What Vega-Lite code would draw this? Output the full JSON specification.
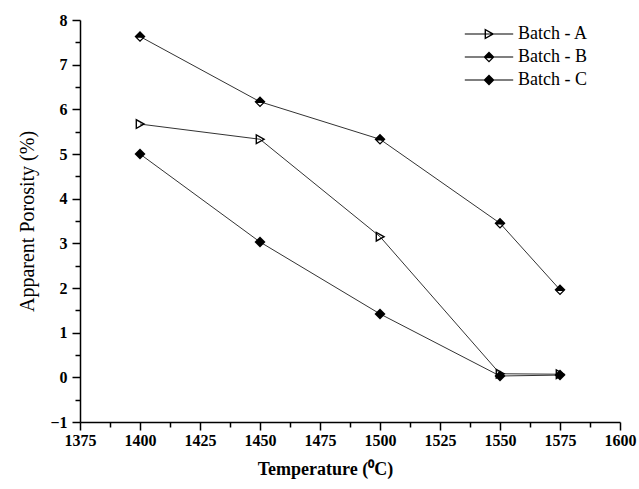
{
  "$schema": "https://vega.github.io/schema/vega-lite/v6.json",
  "width": 540,
  "height": 402,
  "autosize": {"type": "none"},
  "padding": {"left": 80, "top": 20, "right": 19, "bottom": 67},
  "background": "white",
  "config": {
    "view": {"stroke": null},
    "font": "Liberation Serif",
    "axis": {
      "domainColor": "black",
      "domainWidth": 1.5,
      "tickColor": "black",
      "tickWidth": 1.5,
      "grid": false,
      "labelFont": "Liberation Serif",
      "labelFontWeight": "bold",
      "labelFontSize": 16,
      "labelColor": "black",
      "titleColor": "black",
      "titleFont": "Liberation Serif"
    },
    "legend": {
      "labelFont": "Liberation Serif",
      "labelFontSize": 18,
      "labelColor": "black"
    }
  },
  "data": {
    "values": [
      {"series": "Batch - A", "temp": 1400, "porosity": 5.67},
      {"series": "Batch - A", "temp": 1450, "porosity": 5.33},
      {"series": "Batch - A", "temp": 1500, "porosity": 3.15},
      {"series": "Batch - A", "temp": 1550, "porosity": 0.08},
      {"series": "Batch - A", "temp": 1575, "porosity": 0.07},
      {"series": "Batch - B", "temp": 1400, "porosity": 7.63},
      {"series": "Batch - B", "temp": 1450, "porosity": 6.17},
      {"series": "Batch - B", "temp": 1500, "porosity": 5.33},
      {"series": "Batch - B", "temp": 1550, "porosity": 3.45},
      {"series": "Batch - B", "temp": 1575, "porosity": 1.96},
      {"series": "Batch - C", "temp": 1400, "porosity": 5.0},
      {"series": "Batch - C", "temp": 1450, "porosity": 3.03},
      {"series": "Batch - C", "temp": 1500, "porosity": 1.42},
      {"series": "Batch - C", "temp": 1550, "porosity": 0.03},
      {"series": "Batch - C", "temp": 1575, "porosity": 0.05}
    ]
  },
  "layer": [
    {
      "mark": {"type": "line", "color": "#333333", "strokeWidth": 1},
      "encoding": {
        "x": {
          "field": "temp", "type": "quantitative",
          "scale": {"domain": [1375, 1600], "nice": false, "zero": false},
          "axis": {
            "orient": "bottom",
            "values": [1375, 1400, 1425, 1450, 1475, 1500, 1525, 1550, 1575, 1600],
            "format": "d",
            "tickSize": 8,
            "labelPadding": 2,
            "labelFlush": false,
            "labelFontWeight": "bold",
            "title": "Temperature (⁰C)",
            "titleFontSize": 18,
            "titleFontWeight": "bold",
            "titlePadding": 12,
            "titleX": 245
          }
        },
        "y": {
          "field": "porosity", "type": "quantitative",
          "scale": {"domain": [-1, 8], "nice": false, "zero": false},
          "axis": {
            "orient": "left",
            "values": [-1, 0, 1, 2, 3, 4, 5, 6, 7, 8],
            "tickSize": 8,
            "labelPadding": 5,
            "labelFlush": false,
            "labelFontWeight": "bold",
            "title": "Apparent Porosity (%)",
            "titleFontSize": 20,
            "titleFontWeight": "normal",
            "titlePadding": 12
          }
        },
        "detail": {"field": "series"}
      }
    },
    {
      "mark": {"type": "point", "filled": true, "color": "black", "strokeWidth": 0, "size": 121, "opacity": 1},
      "encoding": {
        "x": {
          "field": "temp", "type": "quantitative",
          "axis": {
            "orient": "bottom",
            "values": [1387.5, 1412.5, 1437.5, 1462.5, 1487.5, 1512.5, 1537.5, 1562.5, 1587.5],
            "tickSize": 5, "labels": false, "domain": false, "title": null
          }
        },
        "y": {
          "field": "porosity", "type": "quantitative",
          "axis": {
            "orient": "left",
            "values": [-0.5, 0.5, 1.5, 2.5, 3.5, 4.5, 5.5, 6.5, 7.5],
            "tickSize": 5, "labels": false, "domain": false, "title": null
          }
        },
        "shape": {
          "field": "series", "type": "nominal",
          "scale": {
            "domain": ["Batch - A", "Batch - B", "Batch - C"],
            "range": [
              "M-0.8,-1L1,0L-0.8,1Z M-0.55,-0.575L-0.55,0.575L0.485,0Z",
              "M-1,0L0,-1L1,0Z M-1,0L1,0L0,1Z M-0.47,0.22L0,0.69L0.47,0.22Z",
              "M-1,0L0,-1L1,0L0,1Z"
            ]
          },
          "legend": null
        }
      }
    },
    {
      "transform": [{"filter": "false"}],
      "mark": {"type": "point", "filled": true, "color": "black", "strokeWidth": 0, "opacity": 1},
      "encoding": {
        "shape": {
          "field": "series", "type": "nominal",
          "scale": {
            "domain": ["Batch - A", "Batch - B", "Batch - C"],
            "range": [
              "M-0.8,-1L1,0L-0.8,1Z M-0.55,-0.575L-0.55,0.575L0.485,0Z M-4.4,-0.09L4.4,-0.09L4.4,0.09L-4.4,0.09Z",
              "M-1,0L0,-1L1,0Z M-1,0L1,0L0,1Z M-0.47,0.22L0,0.69L0.47,0.22Z M-4.4,-0.09L4.4,-0.09L4.4,0.09L-4.4,0.09Z",
              "M-1,0L0,-1L1,0L0,1Z M-4.4,-0.09L4.4,-0.09L4.4,0.09L-4.4,0.09Z"
            ]
          },
          "legend": {
            "title": null,
            "orient": "none",
            "legendX": 400,
            "legendY": 5,
            "padding": 0,
            "symbolSize": 121,
            "symbolFillColor": "black",
            "symbolStrokeWidth": 0,
            "symbolOpacity": 1,
            "labelOffset": 20,
            "rowPadding": 5
          }
        }
      }
    }
  ],
  "resolve": {
    "axis": {"x": "independent", "y": "independent"},
    "scale": {"shape": "independent"}
  }
}
